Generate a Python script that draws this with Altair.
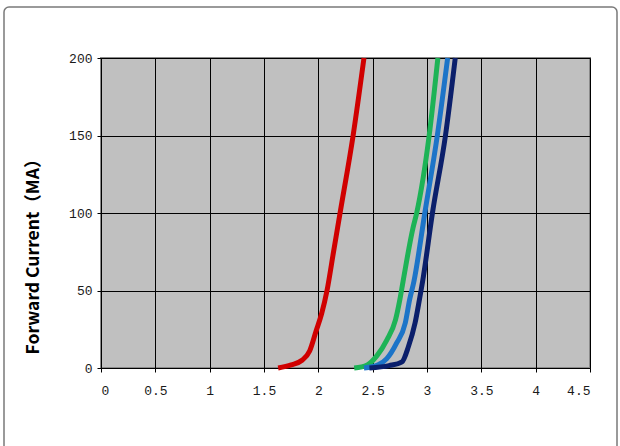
import altair as alt
import pandas as pd

# Forward voltage (V) vs forward current (mA) for each LED colour
red_v = [1.63, 1.75, 1.85, 1.92, 1.98, 2.03, 2.08, 2.14, 2.20, 2.32, 2.42]
red_i = [0, 2, 5, 11, 24, 35, 50, 75, 100, 150, 200]

green_v = [2.33, 2.45, 2.54, 2.63, 2.71, 2.75, 2.78, 2.87, 2.905, 3.02, 3.10]
green_i = [0, 2, 8, 18, 31, 44, 56, 90, 100, 150, 200]

blue_v = [2.42, 2.55, 2.63, 2.72, 2.80, 2.84, 2.88, 2.98, 3.095, 3.19]
blue_i = [0, 2, 6, 16, 29, 44, 56, 100, 150, 200]

navy_v = [2.47, 2.65, 2.77, 2.83, 2.89, 2.93, 2.96, 3.05, 3.17, 3.26]
navy_i = [0, 1.5, 4, 14, 29, 44, 56, 100, 150, 200]

series_names = ["Red", "Green", "Blue", "Navy"]
series_colors = ["#D00000", "#1DB356", "#1C74C8", "#0B1F6B"]

x_ticks = [0, 0.5, 1, 1.5, 2, 2.5, 3, 3.5, 4, 4.5]
y_ticks = [0, 50, 100, 150, 200]

rows = []
for name, vs, cs in zip(series_names, [red_v, green_v, blue_v, navy_v],
                        [red_i, green_i, blue_i, navy_i]):
    for k, (v, c) in enumerate(zip(vs, cs)):
        rows.append({"series": name, "v": v, "i": c, "k": k})
df = pd.DataFrame(rows)

lines = alt.Chart(df).mark_line(strokeWidth=5, interpolate="monotone").encode(
    x=alt.X("v:Q",
            scale=alt.Scale(domain=[0, 4.5], nice=False),
            axis=alt.Axis(values=x_ticks, title=None, labelExpr="format(datum.value, '~g')",
                          labelFont="Liberation Mono", labelFontSize=13, labelColor="#1a1a1a",
                          domainColor="#000", domainWidth=1, tickColor="#000", tickSize=4,
                          labelPadding=12, grid=True, gridColor="#000", gridWidth=1,
                          gridOpacity=1)),
    y=alt.Y("i:Q",
            scale=alt.Scale(domain=[0, 200], nice=False),
            axis=alt.Axis(values=y_ticks, title="Forward Current（MA）",
                          titleFont="Noto Sans CJK SC", titleFontWeight="bold",
                          titleFontSize=17.5, titleColor="#000",
                          titleX=-63, titleY=194, titleAngle=-90,
                          titleBaseline="alphabetic", titleAlign="center",
                          labelFont="Liberation Mono", labelFontSize=13, labelColor="#1a1a1a",
                          domainColor="#000", domainWidth=1, tickColor="#000", tickSize=4,
                          labelPadding=5, grid=True, gridColor="#000", gridWidth=1,
                          gridOpacity=1)),
    color=alt.Color("series:N", scale=alt.Scale(domain=series_names, range=series_colors),
                    legend=None),
    order=alt.Order("k:Q"),
    detail="series:N",
)

frame_df = pd.DataFrame({"f": [1]})
frame = alt.Chart(frame_df).mark_rect(
    fill="transparent", stroke="#7a7a7a", strokeWidth=1.5, cornerRadius=5, clip=False
).encode(
    x=alt.value(-97), x2=alt.value(516), y=alt.value(-51), y2=alt.value(400)
)

chart = alt.layer(frame, lines).properties(
    width=489, height=310,
    autosize=alt.AutoSizeParams(type="none"),
    padding={"left": 101, "top": 58, "right": 30, "bottom": 78},
    background="white",
).configure_view(
    fill="#C0C0C0", stroke="#8a8a8a", strokeWidth=2
)

chart.save("out.html", embed_options={"renderer": "svg", "actions": False})
